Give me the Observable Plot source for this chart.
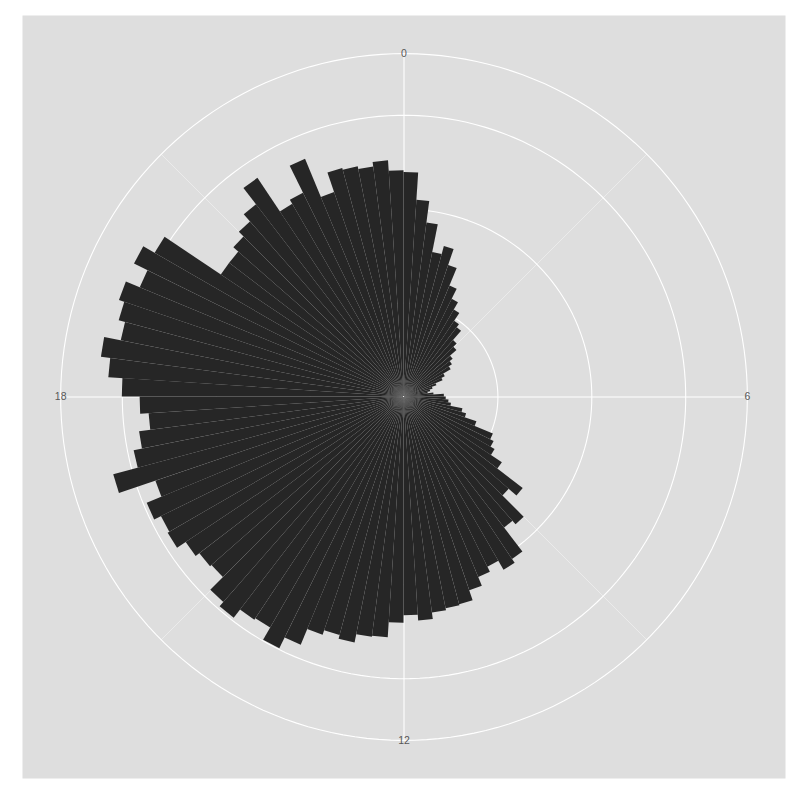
<!DOCTYPE html>
<html>
<head>
<meta charset="utf-8">
<script src="https://cdn.jsdelivr.net/npm/d3@7"></script>
<script src="https://cdn.jsdelivr.net/npm/@observablehq/plot@0.6"></script>
<style>
  html, body { margin: 0; padding: 0; background: #ffffff; }
  #chart { width: 800px; height: 800px; }
</style>
</head>
<body>
<div id="chart"></div>
<script>
// Counts per 15-minute bin, starting at 00:00 and going clockwise
const counts = [
  239, 210, 187, 157, 166, 148, 128, 116, 107, 97, 93, 80,
  75, 66, 62, 58, 49, 45, 37, 32, 29, 26, 32, 43,
  45, 48, 51, 64, 69, 82, 103, 107, 112, 126, 160, 149,
  181, 176, 208, 213, 202, 208, 218, 229, 230, 232, 239, 233,
  241, 257, 258, 267, 263, 268, 286, 299, 284, 286, 297, 291,
  272, 274, 279, 290, 288, 296, 279, 320, 293, 284, 272, 281,
  300, 315, 325, 307, 314, 320, 304, 320, 306, 234, 234, 241,
  248, 258, 280, 237, 242, 274, 230, 252, 250, 247, 252, 241
];
const binWidth = 0.25;                       // hours per bar
const majorHours = [0, 6, 12, 18];
const majorLabels = ["0", "6", "12", "18"];
const minorHours = [3, 9, 15, 21];
const rBreaks = [100, 200, 300];

// panel geometry (ggplot-like polar panel)
const panel = {left: 22, top: 15, right: 785, bottom: 778};
const size = panel.right - panel.left;
const cx = (panel.left + panel.right) / 2;
const cy = (panel.top + panel.bottom) / 2;

const rMax = d3.max(counts);
// hour -> longitude (0 at top, clockwise); value -> latitude (pole = 0)
const lon = (h) => 180 - (h / 24) * 360;
const colat = (norm) => norm * 180 / Math.PI;       // normalized radius -> degrees
const lat = (v) => 90 - colat((v / rMax) * 0.4);
const latOuter = 90 - colat(0.45);

const projection = d3.geoAzimuthalEquidistant()
  .rotate([0, -90])
  .translate([cx, cy])
  .scale(size)
  .clipAngle(179);

const barRows = counts.flatMap((v, i) => [
  {bin: i, h: i * binWidth, v},
  {bin: i, h: (i + 1) * binWidth, v}
]);

const chart = Plot.plot({
  width: 800,
  height: 800,
  marginLeft: panel.left,
  marginTop: panel.top,
  marginRight: 800 - panel.right,
  marginBottom: 800 - panel.bottom,
  projection,
  style: {background: "#ffffff", fontFamily: "'Liberation Sans', Arial, sans-serif"},
  marks: [
    Plot.frame({fill: "#dedede", stroke: null}),
    // minor theta grid
    Plot.link(minorHours, {
      x1: (h) => lon(h), y1: 90, x2: (h) => lon(h), y2: latOuter,
      stroke: "#ffffff", strokeWidth: 0.4
    }),
    // major theta grid
    Plot.link(majorHours, {
      x1: (h) => lon(h), y1: 90, x2: (h) => lon(h), y2: latOuter,
      stroke: "#ffffff", strokeWidth: 1.1
    }),
    // radial grid circles
    Plot.geo(rBreaks, {
      geometry: (v) => d3.geoCircle().center([0, 90]).radius(90 - lat(v)).precision(2)(),
      stroke: "#ffffff", fill: "none", strokeWidth: 1.1
    }),
    Plot.geo([0.45], {
      geometry: (n) => d3.geoCircle().center([0, 90]).radius(colat(n)).precision(2)(),
      stroke: "#ffffff", fill: "none", strokeWidth: 1.1
    }),
    // bars
    Plot.area(barRows, {
      x1: (d) => lon(d.h), y1: (d) => lat(d.v),
      x2: (d) => lon(d.h), y2: 90,
      z: "bin", fill: "#262626", curve: "linear"
    }),
    // theta labels
    Plot.text(majorHours, {
      x: (h) => lon(h), y: latOuter,
      text: (h, i) => majorLabels[i],
      fill: "#4d4d4d", fillOpacity: 0.95, fontSize: 10.5,
      textAnchor: "middle", lineAnchor: "middle"
    })
  ]
});
document.getElementById("chart").appendChild(chart);
</script>
</body>
</html>
